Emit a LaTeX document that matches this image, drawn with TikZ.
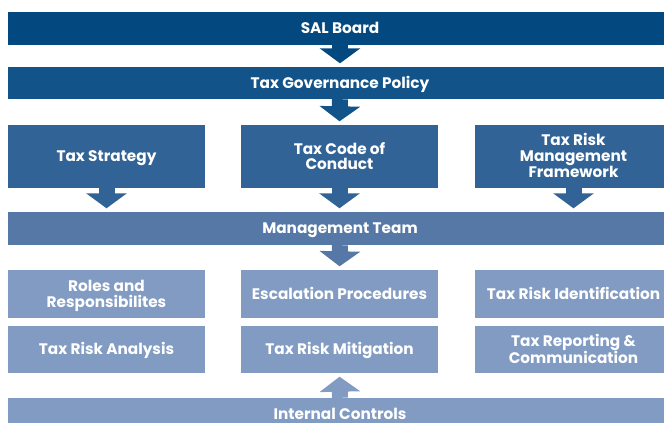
\documentclass[tikz,border=0pt]{standalone}
\usepackage{fontspec}
\setmainfont{Poppins}
\usetikzlibrary{arrows.meta,calc}
\definecolor{cA}{HTML}{03487F}
\definecolor{cB}{HTML}{12548A}
\definecolor{cC}{HTML}{316396}
\definecolor{cD}{HTML}{5578A6}
\definecolor{cE}{HTML}{819BC3}
\newcommand\TopStrut{\rule{0pt}{15pt}}
\newcommand\BotStrut{\rule[-4.3pt]{0pt}{0pt}}
\begin{document}
\begin{tikzpicture}[x=1pt,y=-1pt,
  box/.style={rectangle,inner sep=0pt,text=white,align=center,
    font=\fontsize{15.3}{15.5}\selectfont\bfseries},
  bar/.style={box,minimum width=664pt},
  col/.style={box,minimum width=197pt},
  flow/.style={line width=16pt,shorten >=3.5pt,
    -{Triangle[width=40pt,length=15pt]}}]
\useasboundingbox (0,0) rectangle (664,423);
\clip (0,0) rectangle (664,423);
% bars
\node[bar,fill=cA,minimum height=33pt] (sal) at (340,28.5) {\TopStrut SAL Board\BotStrut};
\node[bar,fill=cB,minimum height=32pt] (tgp) at (340,83) {\TopStrut Tax Governance Policy\BotStrut};
% tier
\node[col,fill=cC,minimum height=63pt] (ts) at (106.5,156.5) {\TopStrut Tax Strategy\BotStrut};
\node[col,fill=cC,minimum height=63pt] (tcc) at (339.5,156.5) {\TopStrut Tax Code of\\Conduct\BotStrut};
\node[col,fill=cC,minimum height=63pt] (trm) at (573.5,156.5) {\TopStrut Tax Risk\\Management\\Framework\BotStrut};
\node[bar,fill=cD,minimum height=33pt] (mt) at (340,228.5) {\TopStrut Management Team\BotStrut};
% rows
\node[col,fill=cE,minimum height=48pt] (rr) at (106.5,294) {\TopStrut Roles and\\Responsibilites\BotStrut};
\node[col,fill=cE,minimum height=48pt] (ep) at (339.5,294) {\TopStrut Escalation Procedures\BotStrut};
\node[col,fill=cE,minimum height=48pt] (tri) at (573.5,294) {\TopStrut Tax Risk Identification\BotStrut};
\node[col,fill=cE,minimum height=47pt] (tra) at (106.5,349.5) {\TopStrut Tax Risk Analysis\BotStrut};
\node[col,fill=cE,minimum height=47pt] (trmi) at (339.5,349.5) {\TopStrut Tax Risk Mitigation\BotStrut};
\node[col,fill=cE,minimum height=47pt] (trc) at (573.5,349.5) {\TopStrut Tax Reporting \&\\Communication\BotStrut};
\node[bar,fill=cE,minimum height=32pt] (ic) at (340,414) {\TopStrut Internal Controls\BotStrut};
% arrows
\draw[flow,cA] (sal.south) -- (tgp.north);
\draw[flow,cB] (tgp.south) -- (tcc.north);
\draw[flow,cC] (ts.south) -- (ts.south |- mt.north);
\draw[flow,cC] (tcc.south) -- (tcc.south |- mt.north);
\draw[flow,cC] (trm.south) -- (trm.south |- mt.north);
\draw[flow,cD] (mt.south) -- (ep.north);
\draw[flow,cE] (ic.north) -- (trmi.south);
\end{tikzpicture}
\end{document}
